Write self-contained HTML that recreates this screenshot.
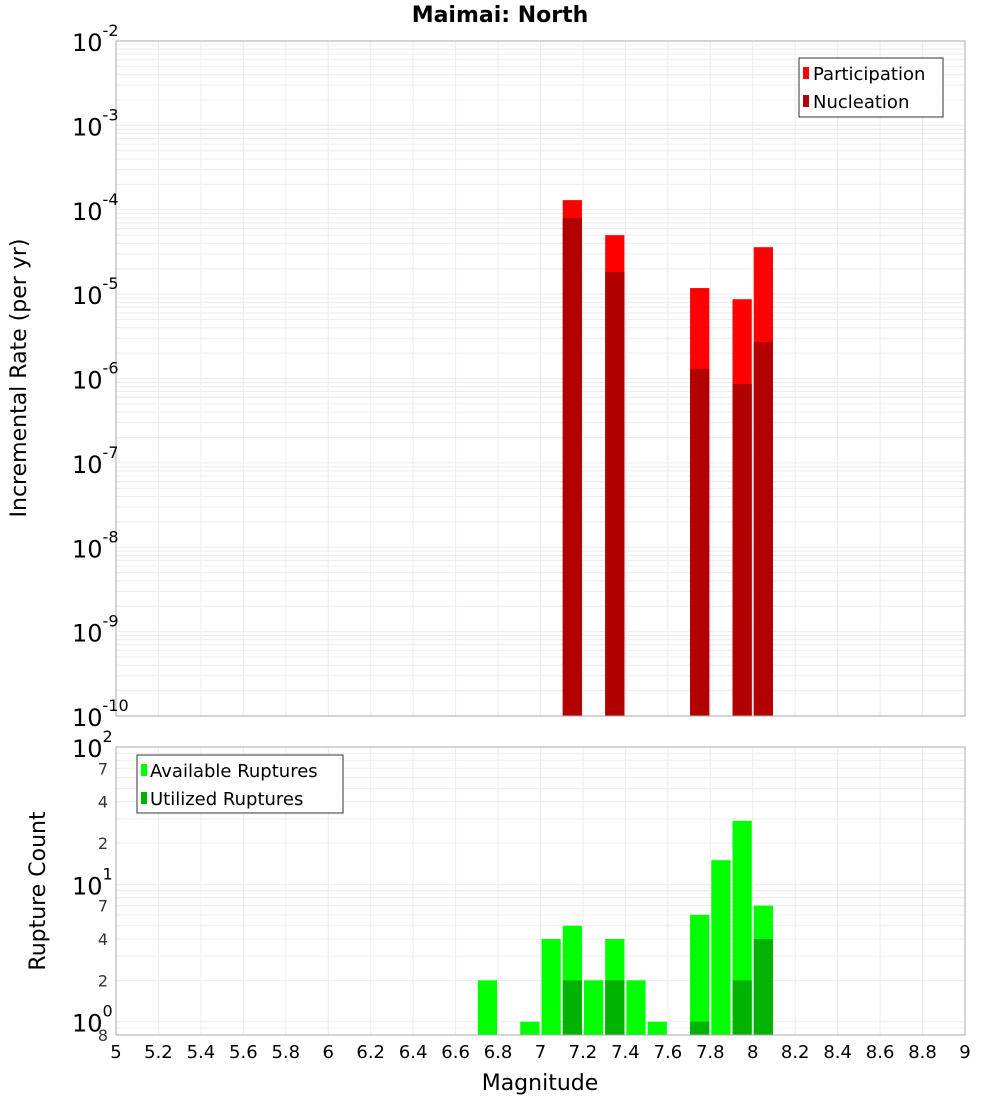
<!DOCTYPE html>
<html><head><meta charset="utf-8"><style>
body{margin:0;background:#fff;}
svg{display:block;font-family:"Liberation Sans","DejaVu Sans",sans-serif;}
</style></head><body>
<svg id="chart" width="1000" height="1100" xmlns="http://www.w3.org/2000/svg">
<text x="500" y="22" text-anchor="middle" font-size="22" font-weight="bold" font-family="DejaVu Sans, sans-serif">Maimai: North</text>
<g id="topplot"></g><g id="botplot"></g>
<text x="540" y="1090" text-anchor="middle" font-size="22" font-family="DejaVu Sans, sans-serif">Magnitude</text>
<text transform="translate(26,378) rotate(-90)" text-anchor="middle" font-size="22" font-family="DejaVu Sans, sans-serif">Incremental Rate (per yr)</text>
<text transform="translate(45,891) rotate(-90)" text-anchor="middle" font-size="22" font-family="DejaVu Sans, sans-serif">Rupture Count</text>
</svg>
<script>
const rateMags=[7.15,7.35,7.75,7.95,8.05];
const participation=[1.3e-4,5.0e-5,1.18e-5,8.7e-6,3.6e-5];
const nucleation=[8.0e-5,1.83e-5,1.3e-6,8.6e-7,2.7e-6];
const countMags=[6.75,6.95,7.05,7.15,7.25,7.35,7.45,7.55,7.75,7.85,7.95,8.05];
const available=[2,1,4,5,2,4,2,1,6,15,29,7];
const utilizedMags=[7.15,7.35,7.75,7.95,8.05];
const utilized=[2,2,1,2,4];
const xTicks=[5,5.2,5.4,5.6,5.8,6,6.2,6.4,6.6,6.8,7,7.2,7.4,7.6,7.8,8,8.2,8.4,8.6,8.8,9];
const topExps=[-2,-3,-4,-5,-6,-7,-8,-9,-10];

const NS="http://www.w3.org/2000/svg";
const X0=116,X1=965;
const x=m=>X0+(m-5)/4*(X1-X0);
const TT=41,TB=716; const yT=v=>TT+(-2-Math.log10(v))/8*(TB-TT);
const BT=747,BB=1035; const LMIN=Math.log10(0.8); const yB=v=>BT+(2-Math.log10(v))/(2-LMIN)*(BB-BT);
function el(p,t,a,txt){const e=document.createElementNS(NS,t);for(const k in a)e.setAttribute(k,a[k]);if(txt!==undefined)e.textContent=txt;p.appendChild(e);return e;}
const topG=document.getElementById('topplot'),botG=document.getElementById('botplot');

// top plot
el(topG,'rect',{x:X0,y:TT,width:X1-X0,height:TB-TT,fill:'#fff',stroke:'none'});
for(let d=-10;d<-2;d++)for(let k=1;k<10;k++){const y=yT(k*Math.pow(10,d));const g=el(topG,'line',{x1:X0,x2:X1,y1:y,y2:y,stroke:'#ececec','stroke-width':1});}
xTicks.forEach(t=>{const g=el(topG,'line',{x1:x(t),x2:x(t),y1:TT,y2:TB,stroke:'#ececec'});});
rateMags.forEach((m,i)=>{
 const r=el(topG,'rect',{x:x(m-0.05)+1,y:yT(participation[i]),width:x(m+0.05)-x(m-0.05)-2,height:TB-yT(participation[i]),fill:'#ff0000'});
 
 const n=el(topG,'rect',{x:x(m-0.05)+1,y:yT(nucleation[i]),width:x(m+0.05)-x(m-0.05)-2,height:TB-yT(nucleation[i]),fill:'#b20000'});
 
});
el(topG,'rect',{x:X0,y:TT,width:X1-X0,height:TB-TT,fill:'none',stroke:'#aaa'});
topExps.forEach(e=>{const y=yT(Math.pow(10,e));const t=el(topG,'text',{x:72,y:y+10,'font-size':24,'font-family':'DejaVu Sans, sans-serif'});
 t.textContent='10';el(t,'tspan',{dy:-15,'font-size':16},String(e));});
const lg=el(topG,'g',{});
el(lg,'rect',{x:799,y:58,width:144,height:59,fill:'#fff',stroke:'#333'});
el(lg,'rect',{x:803,y:67,width:6,height:12,fill:'#ff0000'});
el(lg,'text',{x:813,y:80,'font-size':18,'font-family':'DejaVu Sans, sans-serif'},'Participation');
el(lg,'rect',{x:803,y:95,width:6,height:12,fill:'#b20000'});
el(lg,'text',{x:813,y:108,'font-size':18,'font-family':'DejaVu Sans, sans-serif'},'Nucleation');

// bottom plot
for(let d=-1;d<2;d++)for(let k=1;k<10;k++){const v=k*Math.pow(10,d);if(v<0.8)continue;const y=yB(v);const g=el(botG,'line',{x1:X0,x2:X1,y1:y,y2:y,stroke:'#ececec'});}
xTicks.forEach(t=>{const g=el(botG,'line',{x1:x(t),x2:x(t),y1:BT,y2:BB,stroke:'#ececec'});});
countMags.forEach((m,i)=>{const r=el(botG,'rect',{x:x(m-0.05)+1,y:yB(available[i]),width:x(m+0.05)-x(m-0.05)-2,height:BB-yB(available[i]),fill:'#00ff00'});});
utilizedMags.forEach((m,i)=>{const r=el(botG,'rect',{x:x(m-0.05)+1,y:yB(utilized[i]),width:x(m+0.05)-x(m-0.05)-2,height:BB-yB(utilized[i]),fill:'#00b200'});});
el(botG,'rect',{x:X0,y:BT,width:X1-X0,height:BB-BT,fill:'none',stroke:'#aaa'});
[2,1,0].forEach(e=>{const y=yB(Math.pow(10,e));const t=el(botG,'text',{x:72,y:y+10,'font-size':24,'font-family':'DejaVu Sans, sans-serif'});t.textContent='10';el(t,'tspan',{dy:-15,'font-size':16},String(e));});
[[7,70],[4,40],[2,20],[7,7],[4,4],[2,2],[8,0.8]].forEach(([lab,v])=>{const t=el(botG,'text',{x:108,y:yB(v)+6,'text-anchor':'end','font-size':16,'font-family':'DejaVu Sans, sans-serif',fill:'#333'},String(lab));});
const lg2=el(botG,'g',{});
el(lg2,'rect',{x:137,y:755,width:206,height:58,fill:'#fff',stroke:'#333'});
el(lg2,'rect',{x:141,y:764,width:6,height:12,fill:'#00ff00'});
el(lg2,'text',{x:150,y:777,'font-size':18,'font-family':'DejaVu Sans, sans-serif'},'Available Ruptures');
el(lg2,'rect',{x:141,y:792,width:6,height:12,fill:'#00b200'});
el(lg2,'text',{x:150,y:805,'font-size':18,'font-family':'DejaVu Sans, sans-serif'},'Utilized Ruptures');
xTicks.forEach(t=>{const s=el(botG,'text',{x:x(t),y:1058,'text-anchor':'middle','font-size':18,'font-family':'DejaVu Sans, sans-serif'},String(t));});
</script>
</body></html>
